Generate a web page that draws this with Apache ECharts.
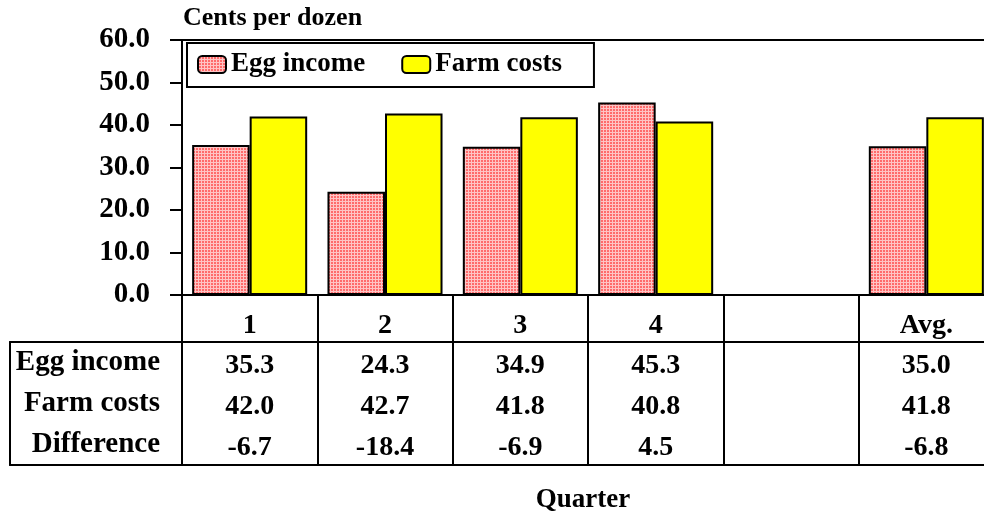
<!DOCTYPE html>
<html>
<head>
<meta charset="utf-8">
<script src="https://cdn.jsdelivr.net/npm/echarts@6/dist/echarts.min.js"></script>
<style>
  html, body { margin: 0; padding: 0; background: #fff; }
  #chart { width: 984px; height: 516px; }
</style>
</head>
<body>
<div id="chart"></div>
<script>
// data
const quarters = ['1', '2', '3', '4', '', 'Avg.']
const eggIncome = [35.3, 24.3, 34.9, 45.3, null, 35.0]
const farmCosts = [42.0, 42.7, 41.8, 40.8, null, 41.8]
const difference = [-6.7, -18.4, -6.9, 4.5, null, -6.8]
const rowNames = ['Egg income', 'Farm costs', 'Difference']
const yTicks = [0, 10, 20, 30, 40, 50, 60]

const FONT = 'Liberation Serif'
const black = '#000'

// pink bars with a small white grid
function pinkPattern() {
  const c = document.createElement('canvas')
  c.width = 3
  c.height = 3
  const ctx = c.getContext('2d')
  ctx.fillStyle = '#ff6b6b'
  ctx.fillRect(0, 0, 3, 3)
  ctx.fillStyle = '#ffc4c4'
  ctx.fillRect(0, 0, 3, 1)
  ctx.fillRect(0, 0, 1, 3)
  return { image: c, repeat: 'repeat' }
}

// table cells: [column, row, value]
const tableRows = [eggIncome, farmCosts, difference]
const tableCells = []
tableRows.forEach((row, ri) => {
  row.forEach((v, ci) => {
    if (v !== null) tableCells.push([ci, ri, v])
  })
})

const lineStyle = { color: black, width: 2 }
const noAxis = { show: false }
const bold = (size) => ({ fontFamily: FONT, fontWeight: 'bold', fontSize: size, color: black })

const chart = echarts.init(document.getElementById('chart'), null, { renderer: 'canvas' })

chart.setOption({
  animation: false,
  backgroundColor: '#fff',
  title: {
    text: 'Cents per dozen',
    left: 183,
    top: 5,
    padding: 0,
    textStyle: bold(26)
  },
  legend: {
    left: 187,
    top: 43,
    padding: [8, 32, 9, 10],
    itemWidth: 28,
    itemHeight: 17,
    itemGap: 36,
    borderColor: black,
    borderWidth: 2,
    backgroundColor: '#fff',
    textStyle: bold(27),
    data: ['Egg income', 'Farm costs']
  },
  // the plot runs a little past the right edge, like the original
  grid: [
    { left: 182, top: 40, width: 812, height: 255, outerBoundsMode: 'none' }, // plot
    { left: 182, top: 295, width: 812, height: 47, outerBoundsMode: 'none' }, // header row
    { left: 182, top: 342, width: 812, height: 123, outerBoundsMode: 'none' }, // table body
    { left: 10, top: 342, width: 172, height: 123, outerBoundsMode: 'none' } // row label column
  ],
  xAxis: [
    {
      gridIndex: 0,
      type: 'category',
      data: quarters,
      axisLine: { lineStyle },
      axisTick: { alignWithLabel: true, length: 10, lineStyle },
      axisLabel: { ...bold(28), margin: 17 }
    },
    {
      gridIndex: 0,
      type: 'category',
      position: 'top',
      data: quarters,
      axisLine: { onZero: false, lineStyle },
      axisTick: noAxis,
      axisLabel: noAxis
    },
    {
      gridIndex: 1,
      type: 'category',
      data: quarters,
      axisLine: noAxis,
      axisTick: noAxis,
      axisLabel: noAxis,
      splitLine: { show: true, lineStyle }
    },
    {
      gridIndex: 2,
      type: 'category',
      data: quarters,
      axisLine: { lineStyle },
      axisTick: noAxis,
      axisLabel: noAxis,
      splitLine: { show: true, lineStyle },
      name: 'Quarter',
      nameLocation: 'middle',
      nameGap: 22,
      nameTextStyle: { ...bold(27), padding: [0, 10, 0, 0] }
    },
    {
      gridIndex: 2,
      type: 'category',
      position: 'top',
      data: quarters,
      axisLine: { onZero: false, lineStyle },
      axisTick: noAxis,
      axisLabel: noAxis
    },
    {
      gridIndex: 3,
      type: 'value',
      min: 0,
      max: 1,
      axisLine: { show: true, onZero: false, lineStyle },
      axisTick: noAxis,
      axisLabel: noAxis,
      splitLine: noAxis
    },
    {
      gridIndex: 3,
      type: 'value',
      position: 'top',
      min: 0,
      max: 1,
      axisLine: { show: true, onZero: false, lineStyle },
      axisTick: noAxis,
      axisLabel: noAxis,
      splitLine: noAxis
    }
  ],
  yAxis: [
    {
      gridIndex: 0,
      type: 'value',
      min: yTicks[0],
      max: yTicks[yTicks.length - 1],
      interval: 10,
      axisLine: { show: true, lineStyle },
      axisTick: { show: true, length: 12, lineStyle },
      axisLabel: { ...bold(29), margin: 32, formatter: v => v.toFixed(1) },
      splitLine: noAxis
    },
    {
      gridIndex: 1,
      type: 'value',
      show: false
    },
    {
      gridIndex: 2,
      type: 'category',
      data: rowNames,
      inverse: true,
      axisLine: { show: true, lineStyle },
      axisTick: noAxis,
      axisLabel: { ...bold(29), margin: 22, padding: [8, 0, 0, 0] },
      splitLine: noAxis
    },
    {
      gridIndex: 3,
      type: 'value',
      min: 0,
      max: 1,
      axisLine: { show: true, onZero: false, lineStyle },
      axisTick: noAxis,
      axisLabel: noAxis,
      splitLine: noAxis
    }
  ],
  series: [
    {
      name: 'Egg income',
      type: 'bar',
      xAxisIndex: 0,
      yAxisIndex: 0,
      data: eggIncome,
      barGap: '0%',
      barCategoryGap: '15%',
      itemStyle: { color: pinkPattern(), borderColor: black, borderWidth: 2 }
    },
    {
      name: 'Farm costs',
      type: 'bar',
      xAxisIndex: 0,
      yAxisIndex: 0,
      data: farmCosts,
      barGap: '0%',
      barCategoryGap: '15%',
      itemStyle: { color: '#ffff00', borderColor: black, borderWidth: 2 }
    },
    {
      name: 'table',
      type: 'scatter',
      xAxisIndex: 3,
      yAxisIndex: 2,
      data: tableCells,
      symbol: 'rect',
      symbolSize: 1,
      itemStyle: { color: '#fff', opacity: 1 },
      label: {
        show: true,
        position: 'inside',
        ...bold(28),
        color: '#000',
        textBorderWidth: 0,
        offset: [0, 3],
        formatter: p => p.value[2].toFixed(1)
      },
      silent: true
    }
  ]
})
</script>
</body>
</html>
